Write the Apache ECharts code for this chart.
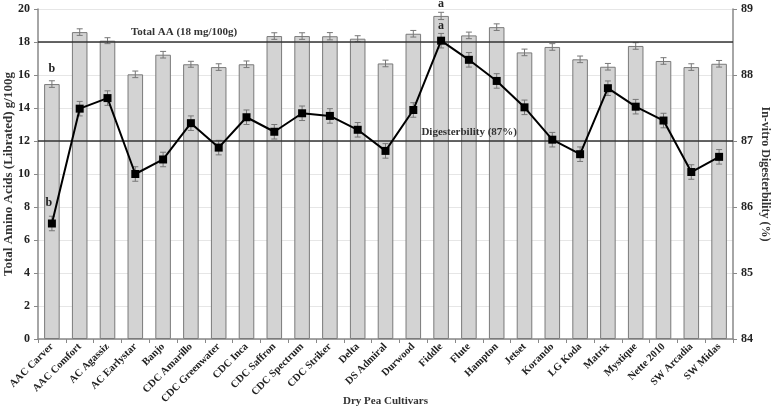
<!DOCTYPE html>
<html>
<head>
<meta charset="utf-8">
<script src="https://cdn.jsdelivr.net/npm/echarts@6/dist/echarts.min.js"></script>
<style>html,body{margin:0;padding:0;background:#fff}#c{width:772px;height:412px}</style>
</head>
<body>
<div id="c"></div>
<script>
const categories = ['AAC Carver','AAC Comfort','AC Agassiz','AC Earlystar','Banjo','CDC Amarillo','CDC Greenwater','CDC Inca','CDC Saffron','CDC Spectrum','CDC Striker','Delta','DS Admiral','Durwood','Fiddle','Flute','Hampton','Jetset','Korando','LG Koda','Matrix','Mystique','Nette 2010','SW Arcadia','SW Midas'];
const totalAA = [15.45,18.6,18.08,16.04,17.23,16.65,16.48,16.65,18.36,18.36,18.35,18.2,16.7,18.5,19.58,18.4,18.9,17.37,17.7,16.95,16.5,17.76,16.85,16.48,16.68];
const totalAAErr = [0.2,0.2,0.18,0.2,0.2,0.18,0.2,0.2,0.2,0.2,0.22,0.18,0.2,0.2,0.22,0.2,0.2,0.2,0.2,0.2,0.2,0.2,0.2,0.2,0.2];
const digest = [85.75,87.49,87.65,86.5,86.72,87.27,86.9,87.36,87.14,87.42,87.38,87.17,86.85,87.47,88.52,88.23,87.91,87.51,87.02,86.8,87.8,87.52,87.31,86.53,86.76];
const digestErr = [0.11,0.11,0.11,0.11,0.11,0.11,0.11,0.11,0.11,0.11,0.11,0.11,0.11,0.11,0.11,0.11,0.11,0.11,0.11,0.11,0.11,0.11,0.11,0.11,0.11];
const barLetters = {0:'b', 14:'a'};
const lineLetters = {0:'b', 14:'a'};
const refAA = 18;
const refDigestLeft = 12;
const leftTicks = [0,20,2];
const rightTicks = [84,89,1];

const F = 'Liberation Serif, Times New Roman, serif';
const chart = echarts.init(document.getElementById('c'));

const barData = totalAA.map((v,i)=> barLetters[i] ? {value:v,label:{show:true,position:'top',distance:i===0?9:6,formatter:barLetters[i],fontFamily:F,fontWeight:'bold',fontSize:12,color:'#222'}} : v);
const lineData = digest.map((v,i)=> lineLetters[i] ? {value:v,label:{show:true,position:'top',distance:i===0?11:5,offset:i===0?[-3,0]:[0,0],formatter:lineLetters[i],fontFamily:F,fontWeight:'bold',fontSize:12,color:'#222'}} : v);

function errItem(params, api){
  const x = api.value(0);
  const lo = api.coord([x, api.value(1)]);
  const hi = api.coord([x, api.value(2)]);
  const w = 3;
  const st = {stroke:'#777', lineWidth:1};
  return {type:'group', children:[
    {type:'line', shape:{x1:lo[0],y1:lo[1],x2:hi[0],y2:hi[1]}, style:st},
    {type:'line', shape:{x1:lo[0]-w,y1:lo[1],x2:lo[0]+w,y2:lo[1]}, style:st},
    {type:'line', shape:{x1:hi[0]-w,y1:hi[1],x2:hi[0]+w,y2:hi[1]}, style:st}
  ]};
}

const axisLabelStyle = {fontFamily:F, fontWeight:'bold', fontSize:12, color:'#222'};

chart.setOption({
  animation:false,
  backgroundColor:'#fff',
  grid:{left:38, right:39, top:9, bottom:73, containLabel:false, outerBoundsMode:'none'},
  xAxis:{type:'category', data:categories, boundaryGap:true,
    name:'Dry Pea Cultivars', nameLocation:'middle', nameGap:57, nameMoveOverlap:false, nameTextStyle:{fontFamily:F, fontWeight:'bold', fontSize:11, color:'#333'},
    axisLine:{lineStyle:{color:'#888', width:1.5}},
    axisTick:{show:true, alignWithLabel:false, length:4, lineStyle:{color:'#888'}},
    axisLabel:{interval:0, rotate:45, fontFamily:F, fontWeight:'bold', fontSize:10.5, color:'#222', margin:6}
  },
  yAxis:[
    {type:'value', min:leftTicks[0], max:leftTicks[1], interval:leftTicks[2],
     name:'Total Amino Acids (Librated) g/100g', nameLocation:'middle', nameGap:23, nameMoveOverlap:false, nameRotate:90, nameTextStyle:{fontFamily:F, fontWeight:'bold', fontSize:13, color:'#333'},
     axisLine:{show:true, lineStyle:{color:'#888', width:1.5}},
     axisTick:{show:true, length:4, lineStyle:{color:'#888'}},
     axisLabel:Object.assign({margin:8}, axisLabelStyle),
     splitLine:{show:true, lineStyle:{color:'#e6e6e6', width:1}}
    },
    {type:'value', min:rightTicks[0], max:rightTicks[1], interval:rightTicks[2], position:'right',
     name:'In-vitro Digesterbility (%)', nameLocation:'middle', nameGap:26, nameMoveOverlap:false, nameRotate:-90, nameTextStyle:{fontFamily:F, fontWeight:'bold', fontSize:12, color:'#333'},
     axisLine:{show:true, lineStyle:{color:'#888', width:1.5}},
     axisTick:{show:true, length:4, lineStyle:{color:'#888'}},
     axisLabel:Object.assign({margin:8}, axisLabelStyle),
     splitLine:{show:false}
    }
  ],
  series:[
    {type:'bar', data:barData, barWidth:'56%', yAxisIndex:0,
     itemStyle:{color:'#d3d3d3', borderColor:'#7a7a7a', borderWidth:1},
     markLine:{silent:true, symbol:'none', animation:false,
       data:[
         {yAxis:refAA, lineStyle:{color:'#333', width:1.5, type:'solid'},
          label:{show:true, position:'insideStartTop', distance:[93,4], formatter:'Total AA (18 mg/100g)', fontFamily:F, fontWeight:'bold', fontSize:11, color:'#333'}},
         {yAxis:refDigestLeft, lineStyle:{color:'#333', width:1.5, type:'solid'},
          label:{show:true, position:'insideEndTop', distance:[216,3], formatter:'Digesterbility (87%)', fontFamily:F, fontWeight:'bold', fontSize:11, color:'#333'}}
       ]}
    },
    {type:'custom', yAxisIndex:0, renderItem:errItem, z:3,
     data: totalAA.map((v,i)=>[i, v-totalAAErr[i], v+totalAAErr[i]])},
    {type:'custom', yAxisIndex:1, renderItem:errItem, z:4,
     data: digest.map((v,i)=>[i, v-digestErr[i], v+digestErr[i]])},
    {type:'line', yAxisIndex:1, data:lineData, symbol:'rect', symbolSize:8, z:5,
     lineStyle:{color:'#000', width:2}, itemStyle:{color:'#000'}}
  ]
});
</script>
</body>
</html>
